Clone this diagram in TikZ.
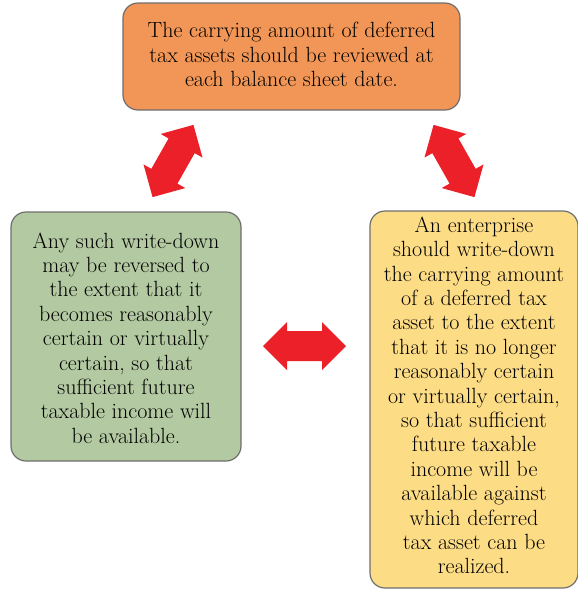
\documentclass[tikz,border=0pt]{standalone}
\usepackage{fontspec}
\definecolor{boxorange}{HTML}{F19656}
\definecolor{boxgreen}{HTML}{B2C9A1}
\definecolor{boxyellow}{HTML}{FDDC86}
\definecolor{boxline}{HTML}{6E6E6E}
\definecolor{arrowred}{HTML}{EC2029}
\tikzset{
  box/.style={draw=boxline, line width=1.2pt, rounded corners=15pt, align=center, inner sep=0pt,
    font=\fontsize{22}{24.4}\selectfont},
  boxtext/.style={align=center, inner sep=0pt, font=\fontsize{22}{24.4}\selectfont},
  dblarrow/.style={fill=arrowred, draw=none}
}
\newcommand{\dblarrowpath}{(-41.5,0) -- (-17.5,-24) -- (-17.5,-15) -- (17.5,-15) -- (17.5,-24) -- (41.5,0) -- (17.5,24) -- (17.5,15) -- (-17.5,15) -- (-17.5,24) -- cycle}
\begin{document}
\begin{tikzpicture}[x=1pt,y=-1pt]
\useasboundingbox (0,0) rectangle (578,589);
\node[box, fill=boxorange, minimum width=337pt, minimum height=107pt] (top) at (291.5,56.5) {};
\node[boxtext] (toptext) at (291.5,54.5)
  {The carrying amount of deferred\\tax assets should be reviewed at\\each balance sheet date.};
\node[box, fill=boxgreen, minimum width=230pt, minimum height=249pt] (left) at (126,336.5) {};
\node[boxtext] (lefttext) at (126,338)
  {Any such write-down\\may be reversed to\\the extent that it\\becomes reasonably\\certain or virtually\\certain, so that\\sufficient future\\taxable income will\\be available.};
\node[box, fill=boxyellow, minimum width=208pt, minimum height=377pt] (right) at (474,399.5) {};
\node[boxtext] (righttext) at (474,395.5)
  {An enterprise\\should write-down\\the carrying amount\\of a deferred tax\\asset to the extent\\that it is no longer\\reasonably certain\\or virtually certain,\\so that sufficient\\future taxable\\income will be\\available against\\which deferred\\tax asset can be\\realized.};
\coordinate (arrTL) at (173,161);
\coordinate (arrTR) at (454,161);
\coordinate (arrMid) at (304.5,346);
\fill[dblarrow, shift={(arrTL)}, rotate=60.5] \dblarrowpath;
\fill[dblarrow, shift={(arrTR)}, rotate=119.5] \dblarrowpath;
\fill[dblarrow, shift={(arrMid)}] \dblarrowpath;
\end{tikzpicture}
\end{document}
